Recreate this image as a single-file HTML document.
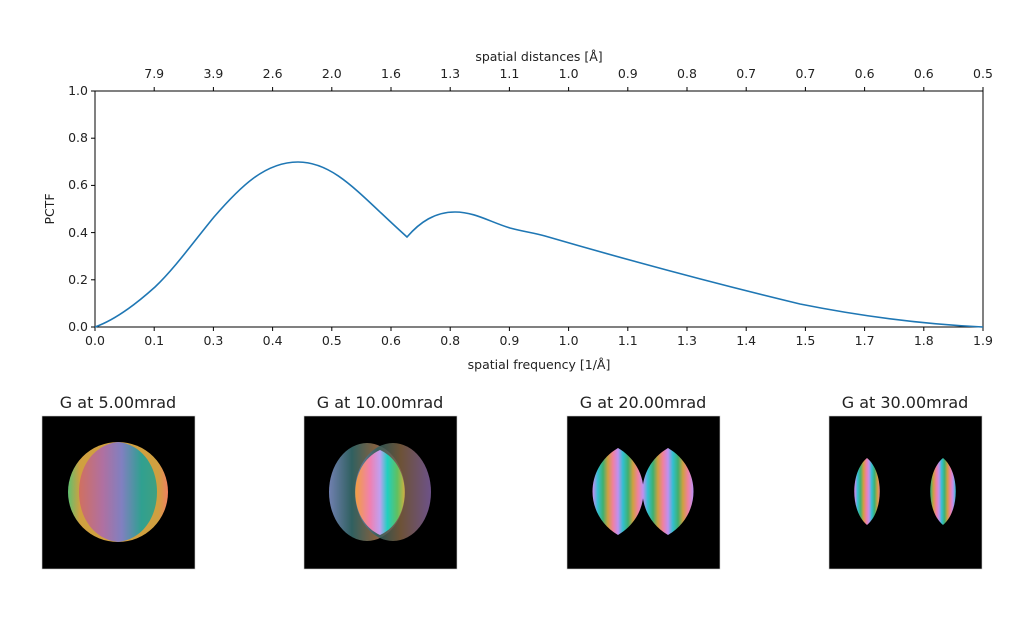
<!DOCTYPE html>
<html><head><meta charset="utf-8"><style>
body{margin:0;background:#fff;}
svg text{font-family:"DejaVu Sans","Liberation Sans",sans-serif;fill:#222;}
</style></head><body>
<svg width="1020" height="637" viewBox="0 0 1020 637" xmlns="http://www.w3.org/2000/svg">
<defs>
<linearGradient id="g1" x1="0" x2="1"><stop offset="0" stop-color="#60c070"/><stop offset="0.12" stop-color="#d0a040"/><stop offset="0.9" stop-color="#d0a040"/><stop offset="1" stop-color="#f08060"/></linearGradient>
<linearGradient id="g1b" x1="0" x2="1"><stop offset="0" stop-color="#d07060"/><stop offset="0.3" stop-color="#b070a0"/><stop offset="0.55" stop-color="#8080c0"/><stop offset="0.8" stop-color="#30a090"/><stop offset="1" stop-color="#40a080"/></linearGradient>
<linearGradient id="g2" x1="0" x2="1"><stop offset="0" stop-color="#f0a040"/><stop offset="0.3" stop-color="#f080b0"/><stop offset="0.5" stop-color="#c0a0f0"/><stop offset="0.65" stop-color="#20d0c0"/><stop offset="0.85" stop-color="#60c060"/><stop offset="1" stop-color="#d0b040"/></linearGradient>
<linearGradient id="g2d" x1="0" x2="1"><stop offset="0" stop-color="#7080b0"/><stop offset="0.3" stop-color="#306060"/><stop offset="0.6" stop-color="#806040"/><stop offset="1" stop-color="#8060a0"/></linearGradient>
<linearGradient id="st" spreadMethod="repeat" gradientUnits="userSpaceOnUse" x1="593" x2="618"><stop offset="0" stop-color="#c090f0"/><stop offset="0.2" stop-color="#30c0d0"/><stop offset="0.4" stop-color="#40b070"/><stop offset="0.6" stop-color="#d0a040"/><stop offset="0.8" stop-color="#f080a0"/><stop offset="1" stop-color="#c090f0"/></linearGradient>
<linearGradient id="st2" spreadMethod="repeat" gradientUnits="userSpaceOnUse" x1="855" x2="869"><stop offset="0" stop-color="#c090f0"/><stop offset="0.2" stop-color="#30c0d0"/><stop offset="0.4" stop-color="#40b070"/><stop offset="0.6" stop-color="#d0a040"/><stop offset="0.8" stop-color="#f080a0"/><stop offset="1" stop-color="#c090f0"/></linearGradient>
</defs>
<rect x="95" y="91" width="888" height="236" fill="none" stroke="#000" stroke-width="1"/>
<g stroke="#000" stroke-width="1">
<line x1="91" y1="91" x2="95" y2="91"/><line x1="91" y1="138.2" x2="95" y2="138.2"/><line x1="91" y1="185.4" x2="95" y2="185.4"/><line x1="91" y1="232.6" x2="95" y2="232.6"/><line x1="91" y1="279.8" x2="95" y2="279.8"/><line x1="91" y1="327" x2="95" y2="327"/>
</g>
<g font-size="12.5" text-anchor="end">
<text x="88" y="95">1.0</text><text x="88" y="142">0.8</text><text x="88" y="189">0.6</text><text x="88" y="237">0.4</text><text x="88" y="284">0.2</text><text x="88" y="331">0.0</text>
</g>
<text x="0" y="0" font-size="12.5" text-anchor="middle" transform="translate(54,209) rotate(-90)">PCTF</text>
<g font-size="12.5" text-anchor="middle">
<text x="95" y="345">0.0</text><text x="154.2" y="345">0.1</text><text x="213.4" y="345">0.3</text><text x="272.6" y="345">0.4</text><text x="331.8" y="345">0.5</text><text x="391" y="345">0.6</text><text x="450.2" y="345">0.8</text><text x="509.4" y="345">0.9</text><text x="568.6" y="345">1.0</text><text x="627.8" y="345">1.1</text><text x="687" y="345">1.3</text><text x="746.2" y="345">1.4</text><text x="805.4" y="345">1.5</text><text x="864.6" y="345">1.7</text><text x="923.8" y="345">1.8</text><text x="983" y="345">1.9</text>
<text x="539" y="369">spatial frequency [1/Å]</text>
<text x="154.2" y="78">7.9</text><text x="213.4" y="78">3.9</text><text x="272.6" y="78">2.6</text><text x="331.8" y="78">2.0</text><text x="391" y="78">1.6</text><text x="450.2" y="78">1.3</text><text x="509.4" y="78">1.1</text><text x="568.6" y="78">1.0</text><text x="627.8" y="78">0.9</text><text x="687" y="78">0.8</text><text x="746.2" y="78">0.7</text><text x="805.4" y="78">0.7</text><text x="864.6" y="78">0.6</text><text x="923.8" y="78">0.6</text><text x="983" y="78">0.5</text>
<text x="539" y="61">spatial distances [Å]</text>
</g>
<g stroke="#000">
<path d="M95 327v4M154.2 327v4M213.4 327v4M272.6 327v4M331.8 327v4M391 327v4M450.2 327v4M509.4 327v4M568.6 327v4M627.8 327v4M687 327v4M746.2 327v4M805.4 327v4M864.6 327v4M923.8 327v4M983 327v4"/>
<path d="M154.2 91v-4M213.4 91v-4M272.6 91v-4M331.8 91v-4M391 91v-4M450.2 91v-4M509.4 91v-4M568.6 91v-4M627.8 91v-4M687 91v-4M746.2 91v-4M805.4 91v-4M864.6 91v-4M923.8 91v-4M983 91v-4"/>
</g>
<path d="M95 327 C115 320,135 305,155 287 C175 268,195 240,214 217 C240 187,265 162,298 162 C335 162,360 195,407 237 C420 222,435 212,455 212 C475 212,490 222,510 228 C525 232,535 233,545 236 C600 252,700 280,800 304 C880 320,940 325,983 327" fill="none" stroke="#1f77b4" stroke-width="1.6"/>
<g font-size="16" text-anchor="middle">
<text x="118" y="408">G at 5.00mrad</text><text x="380" y="408">G at 10.00mrad</text><text x="643" y="408">G at 20.00mrad</text><text x="905" y="408">G at 30.00mrad</text>
</g>
<rect x="42" y="416" width="153" height="153" fill="#000" stroke="#ccc" stroke-width="0.6"/>
<circle cx="118" cy="492" r="50" fill="url(#g1)"/>
<path d="M118 442 C170 448,170 536,118 542 C66 536,66 448,118 442Z" fill="url(#g1b)"/>
<rect x="304" y="416" width="153" height="153" fill="#000" stroke="#ccc" stroke-width="0.6"/>
<ellipse cx="367" cy="492" rx="38" ry="49" fill="url(#g2d)"/>
<ellipse cx="393" cy="492" rx="38" ry="49" fill="url(#g2d)" opacity="0.85"/>
<path d="M380 450 C413 465,413 520,380 535 C347 520,347 465,380 450Z" fill="url(#g2)"/>
<rect x="567" y="416" width="153" height="153" fill="#000" stroke="#ccc" stroke-width="0.6"/>
<path d="M618 448 C652 468,652 515,618 535 C584 515,584 468,618 448Z" fill="url(#st)"/>
<path d="M668 448 C702 468,702 515,668 535 C634 515,634 468,668 448Z" fill="url(#st)"/>
<rect x="829" y="416" width="153" height="153" fill="#000" stroke="#ccc" stroke-width="0.6"/>
<path d="M867 458 C884 472,884 511,867 525 C850 511,850 472,867 458Z" fill="url(#st2)"/>
<path d="M943 458 C960 472,960 511,943 525 C926 511,926 472,943 458Z" fill="url(#st2)"/>
</svg>
</body></html>
